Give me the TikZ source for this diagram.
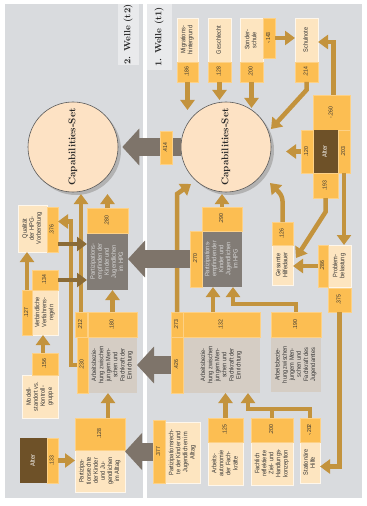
\documentclass[tikz,border=0pt]{standalone}
\usepackage{fontspec}
\usetikzlibrary{arrows.meta}
\newfontfamily\boxfont[FakeStretch=0.88]{Liberation Sans}

\definecolor{panel}{HTML}{D9DBDE}
\definecolor{tabbg}{HTML}{E9EAEC}
\definecolor{val}{HTML}{FCBE52}
\definecolor{peach}{HTML}{FDE5C0}
\definecolor{conn}{HTML}{C3933D}
\definecolor{dconn}{HTML}{8B6B36}
\definecolor{big}{HTML}{7E746A}
\definecolor{darkbox}{HTML}{827C76}
\definecolor{lightbox}{HTML}{D5CDC4}
\definecolor{agebox}{HTML}{6E5128}
\definecolor{circfill}{HTML}{FDE2C4}

% box by corners (x1,y1)-(x2,y2), text turned to read upwards
\newcommand\bx[7]{\node[#2, minimum width={(#5-#3)*1bp}, minimum height={(#6-#4)*1bp}]
  (#1) at ({(#3+#5)/2},{(#4+#6)/2}) {\rotatebox{90}{\begin{tabular}{@{}c@{}}#7\end{tabular}}};}

\tikzset{
  base/.style={inner sep=0pt, outer sep=0pt, font=\boxfont\fontsize{6.4}{7.1}\selectfont},
  valbox/.style={base, fill=val, draw=val!70!white, line width=0.4bp, text=black!80,
    font=\boxfont\fontsize{5.8}{6.2}\selectfont},
  txtbox/.style={base, fill=peach, draw=white!70!peach, line width=0.4bp, text=black!80},
  darkbx/.style={base, fill=darkbox, text=black!15},
  lightbx/.style={base, fill=lightbox, text=black!80},
  agebx/.style={base, fill=agebox, text=white},
  tabbox/.style={base, fill=tabbg, font=\bfseries\fontsize{9}{10}\selectfont, text=black!85},
  conn/.style={draw=conn, line width=4.5bp, line join=miter, -{Triangle[width=14bp,length=10bp]}},
  connline/.style={draw=conn, line width=4.5bp},
  dconnar/.style={draw=dconn, line width=4.5bp, -{Triangle[width=14bp,length=10bp]}},
  bigarrow/.style={draw=big, line width=18bp, -{Triangle[width=36bp,length=17bp]}},
  capcircle/.style={circle, minimum size=90bp, inner sep=0pt, fill=circfill,
    draw=black!65, line width=0.6bp, font=\bfseries\fontsize{9.8}{11}\selectfont, text=black!85}
}

\begin{document}
\begin{tikzpicture}[x=1bp,y=-1bp]
\useasboundingbox (0,0) rectangle (366,506);
\fill[white] (0,0) rectangle (366,506);

% the two panels
\fill[panel] (5,4) rectangle (143,498);
\fill[panel] (147,4) rectangle (362,498);
\bx{tabB}{tabbox}{118}{4}{139}{65}{2. Welle (t2)}
\bx{tabA}{tabbox}{147}{4}{172}{70}{1. Welle (t1)}

% ---------- 1. Welle ----------
\fill[black!30] (229,150) circle[radius=45bp];
\node[capcircle] (circR) at (226,147) {\rotatebox{90}{Capabilities-Set}};

\bx{mig}{txtbox}{177}{18}{198}{62}{Migrations-\\hintergrund}
\bx{v186}{valbox}{177}{62}{198}{82}{.186}
\bx{ges}{txtbox}{208}{18}{231}{62}{Geschlecht}
\bx{v128a}{valbox}{208}{62}{231}{82}{.128}
\bx{son}{txtbox}{240}{18}{263}{62}{Sonder-\\schule}
\bx{v143}{valbox}{263}{18}{275}{58}{-.143}
\bx{v200a}{valbox}{240}{62}{263}{82}{.200}
\bx{schul}{txtbox}{295}{18}{318}{62}{Schulnote}
\bx{v214}{valbox}{295}{62}{318}{82}{.214}

\bx{vm260}{valbox}{313}{95}{350}{130}{-.260}
\bx{alter}{agebx}{313}{130}{338}{173}{Alter}
\bx{v120}{valbox}{301}{130}{313}{173}{.120}
\bx{v203}{valbox}{338}{130}{350}{173}{.203}
\bx{v193}{valbox}{313}{173}{338}{198}{.193}

\bx{gesH}{txtbox}{272}{245}{293}{285}{Gesamte\\Hilfedauer}
\bx{v126}{valbox}{272}{222}{293}{245}{.126}
\bx{prob}{txtbox}{328}{245}{351}{287}{Problem-\\belastung}
\bx{v286}{valbox}{318}{245}{328}{287}{.286}
\bx{v375}{valbox}{328}{288}{351}{312}{.375}

\bx{pe1}{darkbx}{202}{231}{242}{287}{Partizipations-\\empfinden der\\Kinder und\\Jugendlichen\\im HPG}
\bx{v290}{valbox}{202}{207}{242}{231}{.290}
\bx{v270}{valbox}{190}{231}{202}{287}{.270}

\bx{ab1}{lightbx}{183}{337}{260}{393}{Arbeitsbezie-\\hung zwischen\\jungem Men-\\schen und\\Fachkraft der\\Einrichtung}
\bx{v132}{valbox}{183}{312}{260}{337}{.132}
\bx{v273}{valbox}{171}{312}{183}{337}{.273}
\bx{v426}{valbox}{171}{337}{183}{393}{.426}

\bx{ab2}{lightbx}{271}{337}{321}{392}{Arbeitsbezie-\\hung zwischen\\jungem Men-\\schen und\\Fachkraft des\\Jugendamtes}
\bx{v190}{valbox}{271}{312}{321}{337}{.190}

\bx{pr1}{txtbox}{165}{422}{200}{483}{Partizipationsrech-\\te der Kinder und\\Jugendlichen im\\Alltag}
\bx{v377}{valbox}{153}{420}{165}{483}{.377}

\bx{aa}{txtbox}{208}{442}{243}{485}{Arbeits-\\autonomie\\der Fach-\\kräfte}
\bx{v125}{valbox}{208}{418}{243}{442}{.125}
\bx{fr}{txtbox}{251}{442}{293}{485}{Fachlich\\reflektierte\\Ziel- und\\Handlungs-\\konzeption}
\bx{v200b}{valbox}{251}{418}{293}{442}{.200}
\bx{st}{txtbox}{300}{442}{320}{483}{Stationäre\\Hilfe}
\bx{vm202}{valbox}{300}{418}{320}{442}{-.202}

% ---------- 2. Welle ----------
\fill[black!30] (76,150) circle[radius=45bp];
\node[capcircle] (circL) at (73,147) {\rotatebox{90}{Capabilities-Set}};

\bx{qual}{txtbox}{18}{205}{47}{252}{Qualität\\der HPG-\\Vorbereitung}
\bx{v376}{valbox}{47}{207}{58}{252}{.376}
\bx{verb}{txtbox}{32}{290}{58}{335}{Verbindliche\\Verfahrens-\\regeln}
\bx{v134}{valbox}{32}{270}{58}{290}{.134}
\bx{v127}{valbox}{22}{290}{32}{335}{.127}
\bx{mod}{txtbox}{22}{375}{58}{418}{Modell-\\standort vs.\\Kontroll-\\gruppe}
\bx{v156}{valbox}{32}{353}{58}{375}{.156}

\bx{pe2}{darkbx}{87}{233}{128}{290}{Partizipations-\\empfinden der\\Kinder und\\Jugendlichen\\im HPG}
\bx{v280}{valbox}{87}{208}{128}{233}{.280}
\bx{ab3}{lightbx}{88}{337}{137}{393}{Arbeitsbezie-\\hung zwischen\\jungem Men-\\schen und\\Fachkraft der\\Einrichtung}
\bx{v180}{valbox}{88}{312}{137}{337}{.180}
\bx{v212}{valbox}{75}{312}{87}{337}{.212}
\bx{v230}{valbox}{77}{337}{88}{393}{.230}

\bx{alt2}{agebx}{20}{438}{47}{483}{Alter}
\bx{v133}{valbox}{47}{438}{58}{483}{.133}
\bx{pr2}{txtbox}{75}{450}{125}{492}{Partizipa-\\tionsrechte\\der Kinder\\und Ju-\\gendlichen\\im Alltag}
\bx{v128b}{valbox}{75}{418}{125}{450}{.128}

% ---------- connectors, 1. Welle ----------
\coordinate (tMig) at (187.5,110);
\coordinate (tGes) at (219.5,100);
\coordinate (tSon) at (251.5,108);
\coordinate (tSch) at (271,129);
\coordinate (tAge) at (286,151.5);
\coordinate (tGh)  at (296,258);
\coordinate (tHd)  at (270,183);
\coordinate (tPe1) at (222,194);
\coordinate (tAb1) at (191,184);
\draw[conn] (v186.south) -- (tMig);
\draw[conn] (v128a.south) -- (tGes);
\draw[conn] (v200a.south) -- (tSon);
\draw[conn] (v143.east) -- (v143.east -| schul.west);
\draw[conn] (v214.south) -- ++(0,8) -- (tSch);
\draw[conn] ([xshift=2bp]vm260.north) |- ([yshift=-2bp]schul.east);
\draw[conn] (v120.west) -- (tAge);
\draw[conn] (v203.south) -- (v203.south |- prob.north);
\draw[conn] (v193.south) -- ++(0,14) -- (tGh);
\draw[conn, rounded corners=5bp] (v126.north) -- ++(0,-26) -- (tHd);
\draw[conn] (v286.west) -- (v286.west -| gesH.east);
\draw[conn] (v375.south) |- ([yshift=-4bp]st.east);
\draw[conn] (v290.north) -- (tPe1);
\draw[conn] ([xshift=-9bp]pe1.south |- v132.north) -- ([xshift=-9bp]pe1.south);
\draw[conn] (v190.north) -- ++(0,-8) -| ([xshift=11bp]pe1.south);
\draw[conn] (v273.north) -- ++(0,-118) -- (tAb1);
\draw[conn] (v125.north) -- (v125.north |- ab1.south);
\coordinate (jn) at ([yshift=9bp]v200b.north);
\draw[connline] (vm202.north) |- (jn);
\draw[conn] (v200b.north) -- (jn) -| ([xshift=26.5bp]ab1.south);

% ---------- connectors, 2. Welle ----------
\coordinate (tPe2) at (107.5,194);
\coordinate (tAb3) at (81,194);
\draw[conn] (v280.north) -- (tPe2);
\draw[conn] (v212.north) -- (tAb3);
\draw[conn] (v180.north) -- (v180.north |- pe2.south);
\draw[conn] (v230.west) -- ++(-6,0) |- ([yshift=8bp]v376.east);
\draw[dconnar] ([yshift=-14.5bp]v376.east) -- ([yshift=-14.5bp]v376.east -| pe2.west);
\draw[dconnar] (v134.east) -- (v134.east -| pe2.west);
\draw[conn] (v127.north) -- (v127.north |- qual.south);
\draw[conn] ([xshift=-2bp]v156.north) -- ([xshift=-2bp]v156.north |- verb.south);
\draw[conn] (v133.east) -- (v133.east -| pr2.west);
\draw[conn] ([xshift=8bp]v128b.north) -- ([xshift=8bp]v128b.north |- ab3.south);

% ---------- stability paths between the waves ----------
\draw[bigarrow] (circR.west) -- ([xshift=4bp]circL.east);
\draw[bigarrow] (v270.west) -- (v270.west -| pe2.east);
\draw[bigarrow] (v426.west) -- (v426.west -| ab3.east);
\draw[bigarrow] (v377.west) -- (v377.west -| pr2.east);
\bx{v414}{valbox}{160}{131}{172}{164}{.414}
\end{tikzpicture}
\end{document}
